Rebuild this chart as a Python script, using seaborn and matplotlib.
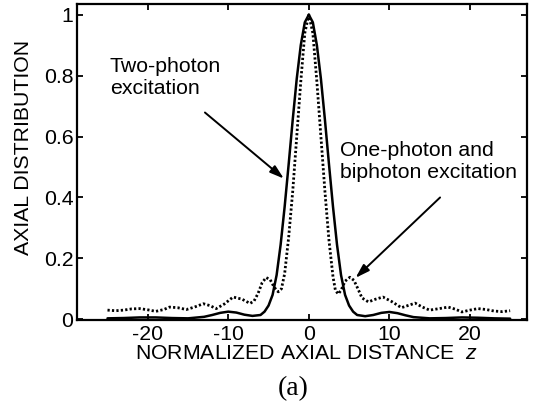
import matplotlib
matplotlib.use("Agg")
import matplotlib.pyplot as plt
import seaborn as sns
import pandas as pd

# two-photon excitation (solid)
solid_z = [-25, -23, -21, -19, -17, -15, -13, -12, -11, -10, -9, -8, -7, -6,
           -5.5, -5, -4.5, -4, -3.5, -3, -2.5, -2, -1.5, -1, -0.5, 0,
           0.5, 1, 1.5, 2, 2.5, 3, 3.5, 4, 4.5, 5, 5.5, 6,
           7, 8, 9, 10, 11, 12, 13, 15, 17, 19, 21, 23, 25]
solid_val = [0.003, 0.004, 0.006, 0.006, 0.004, 0.003, 0.008, 0.014, 0.021, 0.025, 0.022, 0.015, 0.011, 0.014,
             0.025, 0.045, 0.08, 0.145, 0.245, 0.37, 0.51, 0.655, 0.79, 0.9, 0.975, 1.0,
             0.975, 0.9, 0.79, 0.655, 0.51, 0.37, 0.245, 0.145, 0.08, 0.045, 0.025, 0.014,
             0.010, 0.014, 0.021, 0.024, 0.020, 0.013, 0.007, 0.003, 0.004, 0.006, 0.005, 0.003, 0.002]

# one-photon and biphoton excitation (dotted)
dotted_z = [-25, -24, -23, -22, -21, -20, -19, -18, -17.3, -16.3, -15.2, -14.2, -13.1, -12.3,
            -11.5, -10.5, -9.4, -8.3, -7.3, -6.8, -6.3, -5.8, -5.3, -4.8, -4.3, -3.8, -3.4,
            -3, -2.5, -2, -1.5, -1, -0.5, 0,
            0.5, 1, 1.5, 2, 2.5, 3, 3.3, 3.65, 4.0, 4.5, 5.1, 5.6, 6.1, 6.6, 7.4, 8.3,
            9.2, 10.3, 11.5, 12.3, 13.2, 14.1, 15.0, 16.2, 17.3, 18.2, 19.0, 20, 21, 22, 23, 24, 25]
dotted_val = [0.030, 0.028, 0.030, 0.034, 0.035, 0.031, 0.026, 0.032, 0.040, 0.038, 0.032, 0.040, 0.051, 0.045,
              0.035, 0.050, 0.073, 0.066, 0.052, 0.060, 0.085, 0.120, 0.137, 0.130, 0.105, 0.090, 0.100,
              0.15, 0.27, 0.42, 0.60, 0.78, 0.94, 1.0,
              0.94, 0.78, 0.60, 0.42, 0.26, 0.14, 0.095, 0.083, 0.095, 0.125, 0.138, 0.128, 0.100, 0.070, 0.057, 0.066,
              0.073, 0.058, 0.038, 0.045, 0.053, 0.040, 0.030, 0.035, 0.040, 0.033, 0.024, 0.030, 0.035, 0.032, 0.027, 0.025, 0.028]

x_ticks = [-20, -10, 0, 10, 20]
y_ticks = [0, 0.2, 0.4, 0.6, 0.8, 1]
y_tick_labels = ["0", "0.2", "0.4", "0.6", "0.8", "1"]

sns.set_theme(style="ticks")
plt.rcParams["font.family"] = ["Liberation Sans", "DejaVu Sans"]
plt.rcParams["mathtext.fontset"] = "custom"
plt.rcParams["mathtext.it"] = "Liberation Sans:italic"
plt.rcParams["mathtext.rm"] = "Liberation Sans"
plt.rcParams["axes.unicode_minus"] = False
plt.rcParams["text.color"] = "black"
plt.rcParams["axes.labelcolor"] = "black"

fs = 15.3

solid_df = pd.DataFrame({"z": solid_z, "val": solid_val})
dotted_df = pd.DataFrame({"z": dotted_z, "val": dotted_val})

fig = plt.figure(figsize=(5.34, 4.11), dpi=100)
ax = fig.add_axes([0.144, 0.221, 0.843, 0.769])

sns.lineplot(data=solid_df, x="z", y="val", ax=ax, color="black", linewidth=1.8)
sns.lineplot(data=dotted_df, x="z", y="val", ax=ax, color="black", linewidth=2.0,
             linestyle=(0, (0.8, 0.8)))

ax.set_xlim(-28.8, 27.1)
ax.set_ylim(-0.003, 1.035)
ax.set_xticks(x_ticks)
ax.set_yticks(y_ticks)
ax.set_yticklabels(y_tick_labels)
ax.tick_params(direction="in", length=4, width=1.3, labelsize=fs, colors="black",
               top=True, right=True)
ax.tick_params(axis="x", pad=3.5)
ax.tick_params(axis="y", pad=2.5)
for s in ax.spines.values():
    s.set_linewidth(1.6)
    s.set_color("black")

ax.set_xlabel("NORMALIZED AXIAL DISTANCE  $z$", fontsize=fs, color="black")
ax.xaxis.set_label_coords(0.51, -0.074)
ax.set_ylabel("AXIAL DISTRIBUTION", fontsize=fs, color="black")
ax.yaxis.set_label_coords(-0.097, 0.545)

ax.text(-24.7, 0.86, "Two-photon\nexcitation", fontsize=fs, ha="left", va="top", color="black")
ax.text(3.85, 0.585, "One-photon and\nbiphoton excitation", fontsize=fs, ha="left", va="top",
        color="black")

arrow = dict(arrowstyle="-|>,head_length=0.7,head_width=0.22", color="black", lw=1.4,
             shrinkA=0, shrinkB=0)
ax.annotate("", xy=(-3.1, 0.462), xytext=(-12.9, 0.679), arrowprops=arrow)
ax.annotate("", xy=(5.8, 0.136), xytext=(16.3, 0.40), arrowprops=arrow)

fig.text(0.549, 0.054, "(a)", fontsize=20, family=["Liberation Serif", "DejaVu Serif"],
         ha="center", va="center", color="black")

fig.savefig("out.png", dpi=100)
